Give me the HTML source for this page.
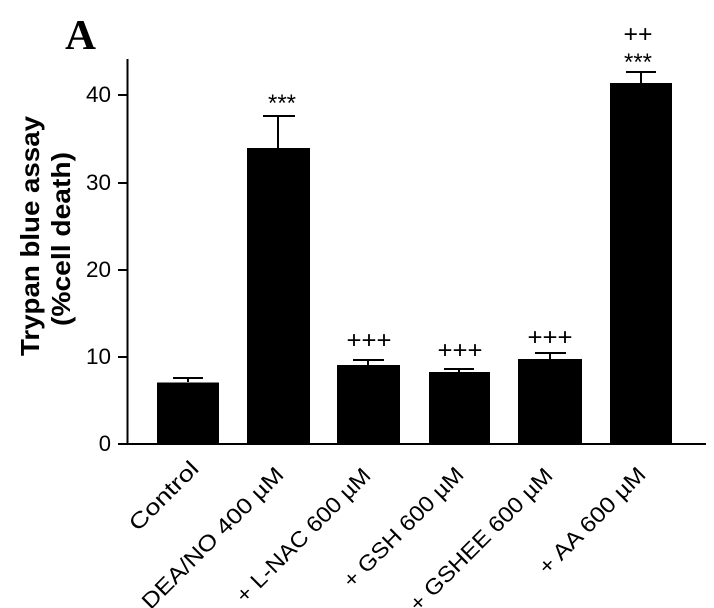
<!DOCTYPE html>
<html><head><meta charset="utf-8"><style>body{margin:0;background:#fff;overflow:hidden}svg{display:block}</style></head>
<body>
<svg width="714" height="608" xmlns="http://www.w3.org/2000/svg" font-family="Liberation Sans, sans-serif">
<text x="65" y="49" font-family="Liberation Serif, serif" font-weight="bold" font-size="42" textLength="31" lengthAdjust="spacingAndGlyphs">A</text>
<g stroke="#000" stroke-width="2" fill="none">
<line x1="127.5" y1="59" x2="127.5" y2="445"/>
<line x1="118" y1="444" x2="706" y2="444"/>
<line x1="118" y1="95" x2="127" y2="95"/>
<line x1="118" y1="183" x2="127" y2="183"/>
<line x1="118" y1="270" x2="127" y2="270"/>
<line x1="118" y1="357" x2="127" y2="357"/>
</g>
<g font-size="22" text-anchor="end">
<text x="111" y="102" textLength="25" lengthAdjust="spacingAndGlyphs">40</text>
<text x="111" y="190" textLength="25" lengthAdjust="spacingAndGlyphs">30</text>
<text x="111" y="277" textLength="25" lengthAdjust="spacingAndGlyphs">20</text>
<text x="111" y="364" textLength="25" lengthAdjust="spacingAndGlyphs">10</text>
<text x="111" y="451">0</text>
</g>
<g font-weight="bold" font-size="26">
<text transform="translate(39,356) rotate(-90)" textLength="240" lengthAdjust="spacingAndGlyphs">Trypan blue assay</text>
<text transform="translate(70,326) rotate(-90)" textLength="174" lengthAdjust="spacingAndGlyphs">(%cell death)</text>
</g>
<g fill="#000">
<rect x="157" y="382.5" width="62" height="62"/>
<rect x="247" y="148" width="63" height="296"/>
<rect x="337" y="365" width="63" height="79"/>
<rect x="429" y="372" width="61" height="72"/>
<rect x="518" y="359" width="64" height="85"/>
<rect x="610" y="83" width="62" height="361"/>
</g>
<g stroke="#000" stroke-width="2">
<line x1="188" y1="382" x2="188" y2="378"/><line x1="173" y1="378" x2="203" y2="378"/>
<line x1="278" y1="148" x2="278" y2="116"/><line x1="263" y1="116" x2="295" y2="116"/>
<line x1="368" y1="365" x2="368" y2="360"/><line x1="353" y1="360" x2="384" y2="360"/>
<line x1="459" y1="372" x2="459" y2="369"/><line x1="444" y1="369" x2="474" y2="369"/>
<line x1="550" y1="359" x2="550" y2="353"/><line x1="535" y1="353" x2="566" y2="353"/>
<line x1="641" y1="83" x2="641" y2="72"/><line x1="626" y1="72" x2="656" y2="72"/>
</g>
<g font-size="24" text-anchor="middle">
<text x="282" y="111" textLength="28" lengthAdjust="spacingAndGlyphs">***</text>
<text x="369" y="348" textLength="45" lengthAdjust="spacingAndGlyphs">+++</text>
<text x="460" y="358" textLength="45" lengthAdjust="spacingAndGlyphs">+++</text>
<text x="550" y="345" textLength="45" lengthAdjust="spacingAndGlyphs">+++</text>
<text x="638" y="70" textLength="28" lengthAdjust="spacingAndGlyphs">***</text>
<text x="638" y="42" textLength="29" lengthAdjust="spacingAndGlyphs">++</text>
</g>
<g font-size="22" text-anchor="end">
<text transform="translate(200,470) rotate(-45)" textLength="88" lengthAdjust="spacingAndGlyphs">Control</text>
<text transform="translate(285,476) rotate(-45)" textLength="190" lengthAdjust="spacingAndGlyphs">DEA/NO 400 µM</text>
<text transform="translate(372,477) rotate(-45)" textLength="180" lengthAdjust="spacingAndGlyphs">+ L-NAC 600 µM</text>
<text transform="translate(465,476) rotate(-45)" textLength="160" lengthAdjust="spacingAndGlyphs">+ GSH 600 µM</text>
<text transform="translate(554,477) rotate(-45)" textLength="192" lengthAdjust="spacingAndGlyphs">+ GSHEE 600 µM</text>
<text transform="translate(647,476) rotate(-45)" textLength="141" lengthAdjust="spacingAndGlyphs">+ AA 600 µM</text>
</g>
</svg>
</body></html>
